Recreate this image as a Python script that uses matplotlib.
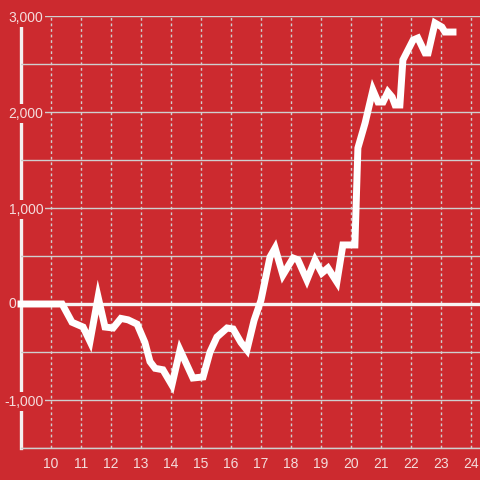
import matplotlib
matplotlib.use('Agg')
import matplotlib.pyplot as plt
import numpy as np

# series
days = [9.0, 10.37, 10.70, 11.07, 11.30, 11.57, 11.80, 12.07, 12.33, 12.57,
        12.87, 13.13, 13.30, 13.47, 13.73, 14.03, 14.30, 14.73, 15.07, 15.30,
        15.53, 15.87, 16.07, 16.33, 16.53, 16.77, 17.00, 17.30, 17.47, 17.73,
        18.07, 18.23, 18.53, 18.80, 19.03, 19.23, 19.53, 19.73, 20.13, 20.23,
        20.47, 20.73, 20.90, 21.07, 21.23, 21.37, 21.47, 21.63, 21.73, 21.90,
        22.07, 22.23, 22.47, 22.57, 22.80, 23.03, 23.13, 23.40]
values = [0, 0, -190, -240, -390, 73, -240, -250, -150, -165,
          -210, -400, -600, -670, -685, -844, -479, -771, -760, -500,
          -344, -250, -260, -400, -479, -170, 40, 490, 583, 302,
          479, 460, 250, 458, 323, 375, 229, 615, 615, 1625,
          1885, 2229, 2104, 2104, 2208, 2156, 2073, 2073, 2542, 2646,
          2750, 2771, 2615, 2615, 2927, 2885, 2833, 2833]

xticks = list(range(10, 25))
yticks = list(range(-1500, 3001, 500))
ylabels = ['{:,}'.format(v) if v % 1000 == 0 and v != 0 else '' for v in yticks]

bg = '#CC2A2F'
txt = '#F4DCDC'
grid = '#CFCFCF'
fs = 10

plt.rcParams['font.family'] = ['Liberation Sans', 'DejaVu Sans']

fig = plt.figure(figsize=(4.8, 4.8), dpi=100)
fig.patch.set_facecolor(bg)
ax = fig.add_axes([21/480, 32/480, 459/480, 432/480])
ax.set_facecolor(bg)
ax.set_axisbelow(True)

ax.set_xlim(9, 24.3)
ax.set_ylim(-1500, 3000)

ax.set_xticks(xticks)
ax.set_yticks(yticks)
ax.set_yticklabels(ylabels)

ax.grid(axis='y', color=grid, lw=1.0)
ax.grid(axis='x', color=grid, lw=1.0, linestyle=(0, (2, 2)))

ax.tick_params(axis='both', length=0, labelsize=fs, colors=txt)
ax.tick_params(axis='x', pad=6.5)
ax.tick_params(axis='y', pad=-16)
for lab in ax.get_yticklabels():
    lab.set_bbox(dict(facecolor=bg, edgecolor='none', pad=1.5))

# zero label sits left of the axis
ax.text(-0.011, 0, '0', transform=ax.get_yaxis_transform(), ha='right',
        va='center', fontsize=fs, color=txt, clip_on=False)

for s in ['top', 'right']:
    ax.spines[s].set_visible(False)
ax.spines['left'].set_color('#F4F0F0')
ax.spines['left'].set_linewidth(2.4)
ax.spines['left'].set_zorder(0.3)
ax.spines['bottom'].set_color(grid)
ax.spines['bottom'].set_linewidth(1.0)

ax.axhline(0, color='#F8F4F4', lw=2.4, zorder=1.5)
ax.plot(days, values, color='white', lw=5, solid_capstyle='projecting',
        solid_joinstyle='miter', zorder=3, clip_on=False)

plt.savefig('out.png', dpi=100, facecolor=bg)
